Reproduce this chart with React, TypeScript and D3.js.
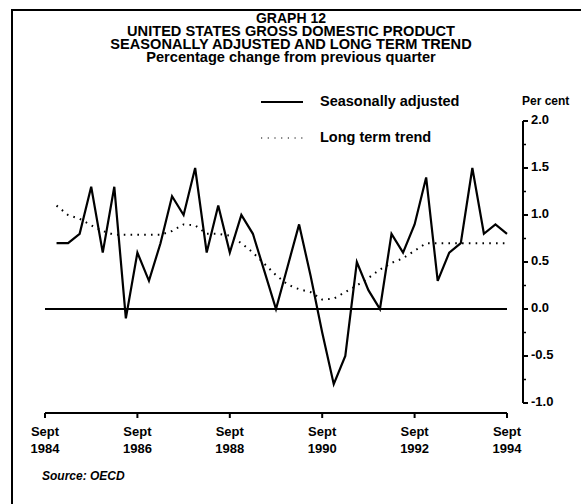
import React from 'react';
import * as d3 from 'd3';

// quarters counted from Sept 1984 (0) to Sept 1994 (40)
const quarterIndex = d3.range(1, 41);
const seasonallyAdjusted = [
  0.7, 0.7, 0.8, 1.3, 0.6, 1.3, -0.1, 0.6, 0.3, 0.7,
  1.2, 1.0, 1.5, 0.6, 1.1, 0.6, 1.0, 0.8, 0.4, 0.0,
  0.45, 0.9, 0.35, -0.25, -0.8, -0.5, 0.5, 0.2, 0.0, 0.8,
  0.6, 0.9, 1.4, 0.3, 0.6, 0.7, 1.5, 0.8, 0.9, 0.8,
];
const longTermTrend = [
  1.1, 1.0, 0.96, 0.89, 0.83, 0.79, 0.79, 0.79, 0.79, 0.79,
  0.83, 0.9, 0.89, 0.8, 0.8, 0.78, 0.7, 0.6, 0.48, 0.36,
  0.26, 0.21, 0.18, 0.1, 0.11, 0.18, 0.25, 0.33, 0.42, 0.49,
  0.54, 0.62, 0.7, 0.7, 0.7, 0.7, 0.7, 0.7, 0.7, 0.7,
];
const yTickValues = [2.0, 1.5, 1.0, 0.5, 0.0, -0.5, -1.0];
const yMinorValues = [1.75, 1.25, 0.75, 0.25, -0.25, -0.75];
const xTickQuarters = [0, 8, 16, 24, 32, 40];
const xTickMonth = ['Sept', 'Sept', 'Sept', 'Sept', 'Sept', 'Sept'];
const xTickYear = ['1984', '1986', '1988', '1990', '1992', '1994'];
const titleLines = [
  'GRAPH 12',
  'UNITED STATES GROSS DOMESTIC PRODUCT',
  'SEASONALLY ADJUSTED AND LONG TERM TREND',
  'Percentage change from previous quarter',
];
const legendLabels = ['Seasonally adjusted', 'Long term trend'];

const W = 581;
const H = 504;
const FONT = "'Liberation Sans', Arial, Helvetica, sans-serif";

export default function App() {
  const x = d3.scaleLinear().domain([0, 40]).range([45, 507]);
  const y = d3.scaleLinear().domain([-1, 2]).range([403, 121]);
  const line = d3
    .line<number>()
    .x((_, i) => x(quarterIndex[i]))
    .y((d) => y(d));
  const axisX = 523;
  const baseY = 413;
  const titleY = [19, 32, 45.5, 58.5];
  const titleSize = [14, 14.6, 14.6, 14.6];

  return (
    <svg
      width={W}
      height={H}
      style={{ position: 'absolute', left: 0, top: 0, background: '#fff' }}
      fontFamily={FONT}
    >
      <rect x={0} y={0} width={W} height={H} fill="#fff" />
      {/* frame */}
      <path d={`M12,${H} V10 H${W}`} fill="none" stroke="#000" strokeWidth={2} />

      {/* titles */}
      {titleLines.map((t, i) => (
        <text
          key={t}
          x={291}
          y={titleY[i]}
          textAnchor="middle"
          dominantBaseline="middle"
          fontWeight="bold"
          fontSize={titleSize[i]}
        >
          {t}
        </text>
      ))}

      {/* legend */}
      <line x1={261} x2={303} y1={102} y2={102} stroke="#000" strokeWidth={2} />
      <text x={320} y={102} dominantBaseline="middle" fontWeight="bold" fontSize={14.5}>
        {legendLabels[0]}
      </text>
      <line x1={261} x2={303} y1={138} y2={138} stroke="#000" strokeWidth={1.2} strokeDasharray="1.2 5.5" />
      <text x={320} y={138} dominantBaseline="middle" fontWeight="bold" fontSize={14.5}>
        {legendLabels[1]}
      </text>

      {/* y axis */}
      <text x={522} y={102} dominantBaseline="middle" fontWeight="bold" fontSize={12}>
        Per cent
      </text>
      <line x1={axisX} x2={axisX} y1={y(2)} y2={y(-1)} stroke="#000" strokeWidth={2} />
      {yTickValues.map((v) => (
        <g key={v}>
          <line x1={axisX} x2={axisX + 5} y1={y(v)} y2={y(v)} stroke="#000" strokeWidth={2} />
          <text x={531} y={y(v)} dominantBaseline="middle" fontWeight="bold" fontSize={13}>
            {d3.format('.1f')(v).replace('−', '-')}
          </text>
        </g>
      ))}
      {yMinorValues.map((v) => (
        <line key={v} x1={axisX} x2={axisX + 3} y1={y(v)} y2={y(v)} stroke="#000" strokeWidth={1.5} />
      ))}

      {/* x axis */}
      <line x1={x(0)} x2={x(40)} y1={baseY} y2={baseY} stroke="#000" strokeWidth={2} />
      {xTickQuarters.map((q, i) => (
        <g key={q}>
          <line x1={x(q)} x2={x(q)} y1={baseY} y2={baseY + 5} stroke="#000" strokeWidth={2} />
          <text x={x(q)} y={433} textAnchor="middle" dominantBaseline="middle" fontWeight="bold" fontSize={13}>
            {xTickMonth[i]}
          </text>
          <text x={x(q)} y={450} textAnchor="middle" dominantBaseline="middle" fontWeight="bold" fontSize={13}>
            {xTickYear[i]}
          </text>
        </g>
      ))}

      {/* zero line */}
      <line x1={x(0)} x2={x(40)} y1={y(0)} y2={y(0)} stroke="#000" strokeWidth={2} />

      {/* series */}
      <path
        d={line(longTermTrend) || ''}
        fill="none"
        stroke="#000"
        strokeWidth={2}
        strokeDasharray="1.6 5.2"
      />
      <path
        d={line(seasonallyAdjusted) || ''}
        fill="none"
        stroke="#000"
        strokeWidth={2.2}
        strokeLinejoin="miter"
      />

      {/* source */}
      <text x={42} y={477} dominantBaseline="middle" fontWeight="bold" fontStyle="italic" fontSize={12}>
        Source: OECD
      </text>
    </svg>
  );
}
